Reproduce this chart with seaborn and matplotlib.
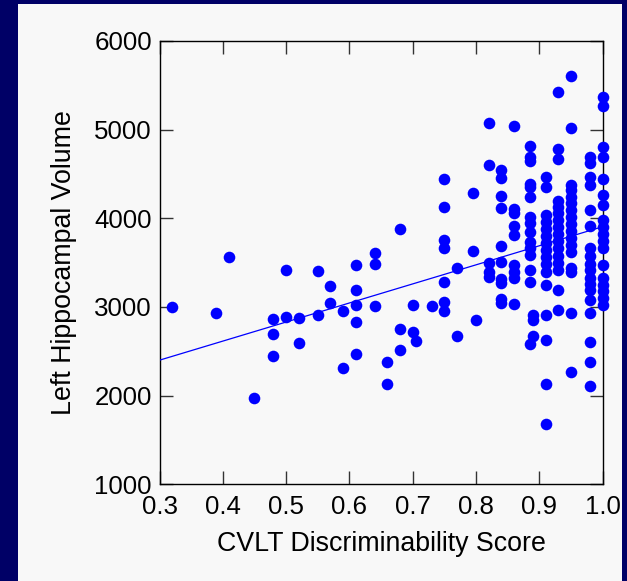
import matplotlib
matplotlib.use("Agg")
import matplotlib.pyplot as plt
import seaborn as sns
import pandas as pd
from matplotlib.patches import Rectangle

# ---------------- data ----------------
# scattered points below 0.8
sparse_score = [0.32, 0.39, 0.41, 0.45,
                0.48, 0.48, 0.48, 0.50, 0.50, 0.52, 0.52,
                0.55, 0.55, 0.57, 0.57, 0.59, 0.59,
                0.61, 0.61, 0.61, 0.61, 0.61,
                0.64, 0.64, 0.64, 0.66, 0.66,
                0.68, 0.68, 0.68, 0.70, 0.70, 0.705, 0.73,
                0.75, 0.75, 0.75, 0.75, 0.75, 0.75, 0.75,
                0.77, 0.77, 0.795, 0.795, 0.80]
sparse_volume = [3000, 2930, 3565, 1975,
                 2870, 2700, 2450, 2890, 3420, 2880, 2590,
                 3410, 2910, 3240, 3050, 2960, 2315,
                 3470, 3190, 3020, 2830, 2475,
                 3610, 3490, 3010, 2375, 2130,
                 3875, 2755, 2510, 3020, 2720, 2620, 3010,
                 4440, 4130, 3750, 3665, 3280, 3055, 2950,
                 3435, 2670, 4290, 3630, 2855]

# dense columns of scores 0.82 - 1.0
col_scores = [0.82, 0.84, 0.86, 0.885, 0.89, 0.91, 0.93, 0.95, 0.98, 1.0]
vol_082 = [5070, 4605, 3500, 3390, 3340]
vol_084 = [4545, 4450, 4250, 4120, 3690, 3510, 3310, 3265, 3090, 3040]
vol_086 = [5040, 4100, 4055, 3915, 3810, 3475, 3400, 3330, 3035]
vol_0885 = [4815, 4690, 4645, 4385, 4350, 4245, 4020, 3945, 3850, 3735,
            3660, 3585, 3415, 3285, 2580]
vol_089 = [2905, 2850, 2670]
vol_091 = [4470, 4350, 4040, 3960, 3880, 3800, 3720, 3640, 3560, 3480,
           3400, 3250, 2910, 2630, 2130, 1680]
vol_093 = [5430, 4780, 4670, 4200, 4130, 4055, 3980, 3900, 3820, 3740,
           3660, 3580, 3500, 3420, 3195, 2965]
vol_095 = [5600, 5015, 4375, 4320, 4245, 4170, 4095, 4015, 3935, 3855,
           3775, 3700, 3620, 3440, 3400, 2930, 2270]
vol_098 = [4695, 4620, 4470, 4375, 4095, 3915, 3660, 3570, 3490, 3420,
           3330, 3260, 3190, 3080, 2935, 2600, 2375, 2110]
vol_100 = [5370, 5270, 4800, 4695, 4440, 4260, 4150, 3980, 3900, 3820,
           3740, 3660, 3475, 3330, 3250, 3180, 3100, 3020]
col_volumes = [vol_082, vol_084, vol_086, vol_0885, vol_089,
               vol_091, vol_093, vol_095, vol_098, vol_100]

# fitted regression line (end points)
fit_score = [0.3, 1.0]
fit_volume = [2400, 3905]

x_ticks = [0.3, 0.4, 0.5, 0.6, 0.7, 0.8, 0.9, 1.0]
x_ticklabels = ["0.3", "0.4", "0.5", "0.6", "0.7", "0.8", "0.9", "1.0"]
y_ticks = [1000, 2000, 3000, 4000, 5000, 6000]
y_ticklabels = ["1000", "2000", "3000", "4000", "5000", "6000"]

x_title = "CVLT Discriminability Score"
y_title = "Left Hippocampal Volume"

# ---------------- build table ----------------
scores = list(sparse_score)
volumes = list(sparse_volume)
for sc, vols in zip(col_scores, col_volumes):
    scores += [sc] * len(vols)
    volumes += vols
df = pd.DataFrame({"score": scores, "volume": volumes})

# ---------------- plot ----------------
sns.set_theme(style="ticks")
plt.rcParams['font.family'] = ['Liberation Sans', 'DejaVu Sans']

W, H = 627, 581
fig = plt.figure(figsize=(W / 100, H / 100), dpi=100, facecolor='#000066')
fig.patches.append(Rectangle((18 / W, 0), (622 - 18) / W, (H - 4) / H,
                             transform=fig.transFigure, facecolor='#f8f8f8',
                             edgecolor='none', zorder=-10))

left, right, top, bottom = 159.5, 602.5, 41.0, 484.3
ax = fig.add_axes([left / W, 1 - bottom / H, (right - left) / W, (bottom - top) / H])
ax.set_zorder(5)
ax.set_facecolor('#f8f8f8')

sns.lineplot(x=fit_score, y=fit_volume, ax=ax, color='#0000ff', linewidth=0.9, zorder=3)
sns.scatterplot(data=df, x='score', y='volume', ax=ax, color='#0000ff',
                s=70, linewidth=0, clip_on=False, zorder=4)

ax.set_xlim(0.3, 1.0)
ax.set_ylim(1000, 6000)
ax.set_xticks(x_ticks)
ax.set_xticklabels(x_ticklabels)
ax.set_yticks(y_ticks)
ax.set_yticklabels(y_ticklabels)
ax.tick_params(axis='both', direction='in', length=9.5, width=1.0,
               color='#333333', labelcolor='black', labelsize=18.6,
               top=True, right=True, bottom=True, left=True)
ax.tick_params(axis='x', pad=8)
ax.tick_params(axis='y', pad=5.5)
for sp in ax.spines.values():
    sp.set_visible(True)
    sp.set_color('black')
    sp.set_linewidth(1.0)

ax.set_xlabel(x_title, fontsize=19.3, color='black')
ax.set_ylabel(y_title, fontsize=19.3, color='black')
ax.xaxis.set_label_coords(0.5, (bottom - 531) / (bottom - top))
ax.yaxis.set_label_coords((77 - left) / (right - left), 0.5)

fig.savefig('out.png', dpi=100, facecolor=fig.get_facecolor())
